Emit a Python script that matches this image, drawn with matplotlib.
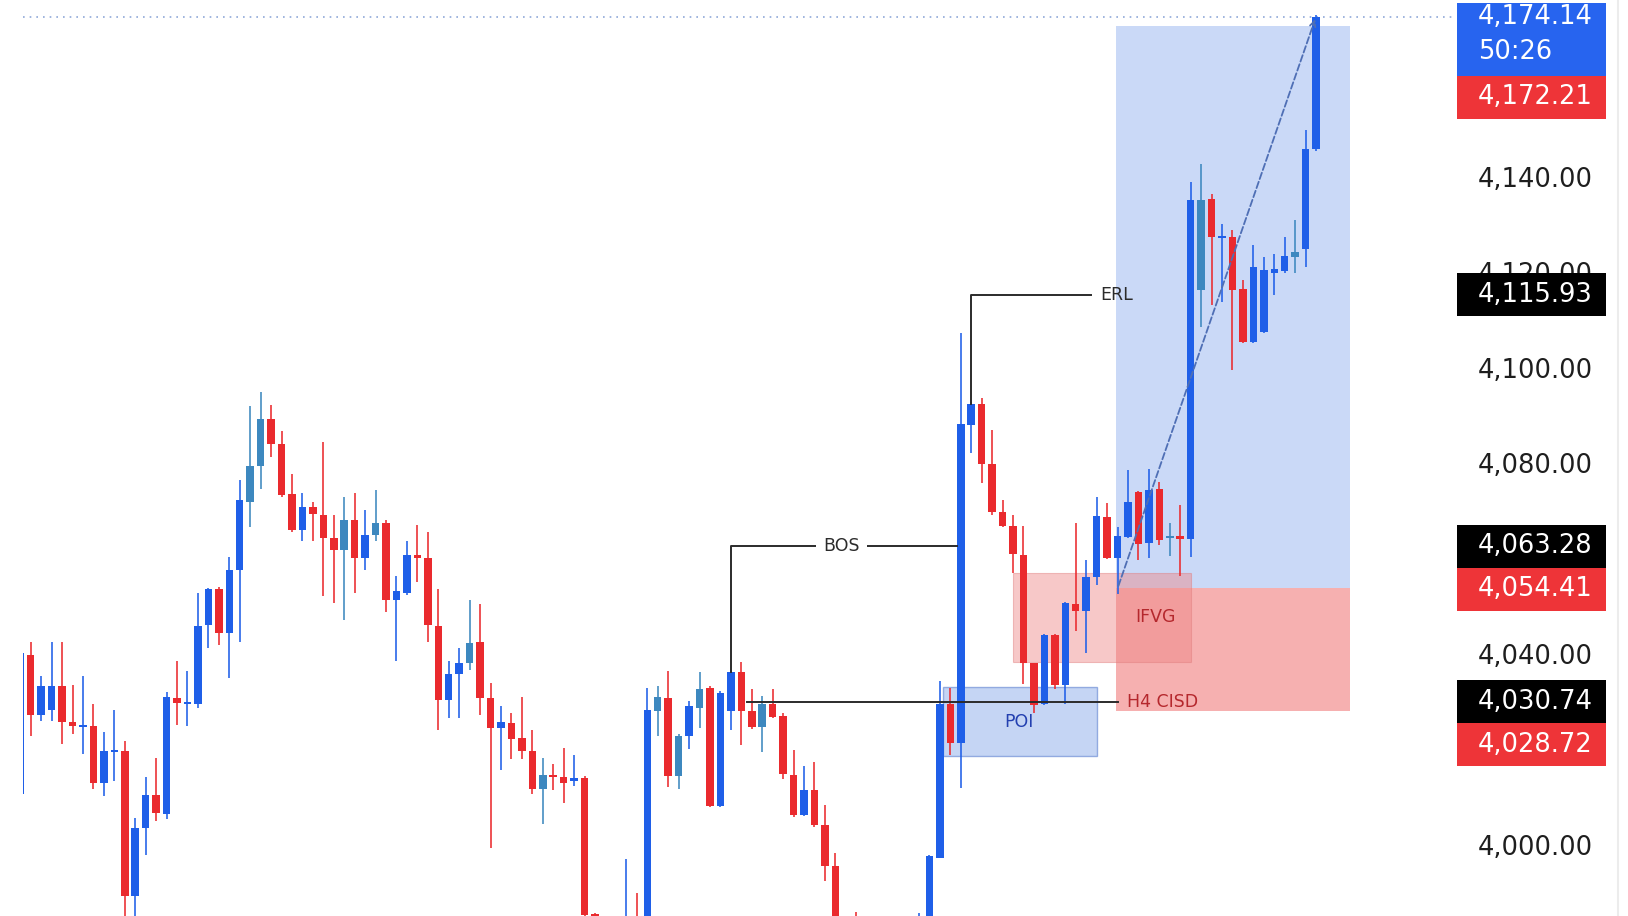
import matplotlib.pyplot as plt
from matplotlib.patches import Rectangle
import numpy as np

# OHLC, first candle (index -1) is cut by the left edge
opens = [4011.4, 4040.4, 4027.9, 4029.0, 4034.0, 4026.5, 4025.4, 4025.6, 4013.7, 4020.2,
         4020.4, 3990.0, 4004.3, 4011.1, 4007.1, 4031.5, 4030.2, 4030.2, 4046.7, 4054.4,
         4045.1, 4058.3, 4072.6, 4080.0, 4089.8, 4084.6, 4074.1, 4066.7, 4071.4, 4069.8,
         4065.0, 4062.4, 4068.8, 4060.7, 4065.7, 4068.1, 4051.9, 4053.5, 4061.4, 4060.7,
         4046.5, 4031.1, 4036.4, 4038.8, 4043.1, 4031.5, 4025.2, 4026.3, 4023.0, 4020.4,
         4012.5, 4015.4, 4014.9, 4014.0, 4014.7, 3986.2, 3980.0, 3975.0, 3978.0, 3982.0,
         3979.0, 4028.8, 4031.5, 4015.2, 4023.6, 4029.3, 4033.5, 4008.9, 4028.8, 4036.9,
         4028.8, 4025.4, 4030.2, 4027.7, 4015.4, 4007.0, 4012.3, 4004.9, 3996.2, 3982.0,
         3978.0, 3975.0, 3972.0, 3970.0, 3974.0, 3971.0, 3976.0, 3980.0, 3998.0, 4030.2,
         4022.0, 4088.6, 4093.0, 4080.5, 4070.5, 4067.5, 4061.4, 4038.7, 4030.2, 4044.7,
         4034.2, 4051.2, 4049.6, 4056.9, 4069.4, 4060.7, 4065.1, 4074.7, 4064.0, 4075.2,
         4065.0, 4065.4, 4064.7, 4117.0, 4135.9, 4127.8, 4127.9, 4117.2, 4106.1, 4108.2,
         4120.5, 4120.9, 4123.9, 4125.4, 4146.4]
highs = [4042.0, 4043.3, 4036.1, 4043.3, 4043.1, 4034.3, 4036.1, 4030.2, 4024.3, 4029.0,
         4022.5, 4006.4, 4015.0, 4019.0, 4032.8, 4039.2, 4037.2, 4053.5, 4054.6, 4054.7,
         4061.0, 4077.2, 4092.7, 4095.6, 4092.9, 4087.3, 4078.4, 4074.3, 4072.6, 4085.0,
         4069.8, 4073.6, 4074.3, 4070.9, 4075.0, 4068.7, 4057.1, 4064.3, 4067.6, 4066.2,
         4054.4, 4039.2, 4041.9, 4051.9, 4051.2, 4034.7, 4029.9, 4028.3, 4031.6, 4024.7,
         4019.0, 4017.6, 4021.1, 4019.5, 4015.2, 3986.5, 3983.0, 3984.0, 3997.7, 3990.6,
         4033.6, 4034.0, 4037.2, 4023.9, 4030.9, 4036.9, 4034.0, 4032.9, 4037.2, 4039.0,
         4033.3, 4031.8, 4033.3, 4028.3, 4020.6, 4017.2, 4018.1, 4009.1, 3999.0, 3984.0,
         3986.7, 3980.0, 3977.0, 3979.0, 3978.0, 3981.0, 3986.4, 3998.6, 4035.1, 4033.5,
         4107.8, 4093.4, 4094.2, 4087.6, 4072.9, 4069.8, 4067.5, 4038.9, 4044.9, 4044.9,
         4051.6, 4068.2, 4060.4, 4073.6, 4072.2, 4067.3, 4079.2, 4074.9, 4079.4, 4076.8,
         4068.2, 4071.9, 4139.6, 4143.2, 4137.1, 4130.7, 4129.5, 4119.0, 4126.3, 4123.9,
         4124.4, 4128.1, 4131.6, 4150.3, 4174.5]
lows = [4010.0, 4023.6, 4026.6, 4026.6, 4021.8, 4024.0, 4019.7, 4012.5, 4010.9, 4014.2,
        3983.0, 3983.0, 3998.6, 4005.7, 4006.1, 4025.8, 4025.6, 4029.3, 4041.9, 4042.6,
        4035.6, 4043.1, 4067.3, 4075.3, 4081.9, 4073.5, 4066.3, 4064.3, 4064.4, 4052.8,
        4051.4, 4047.9, 4053.5, 4058.3, 4064.4, 4049.4, 4039.2, 4053.0, 4055.8, 4043.3,
        4024.7, 4027.3, 4027.2, 4037.3, 4027.9, 4000.1, 4016.5, 4018.6, 4018.7, 4011.4,
        4005.0, 4012.3, 4009.4, 4013.0, 3985.0, 3978.0, 3972.0, 3970.0, 3975.0, 3976.0,
        3976.0, 4023.6, 4012.9, 4012.5, 4020.9, 4025.2, 4008.6, 4008.6, 4024.7, 4021.6,
        4025.0, 4020.2, 4027.2, 4014.5, 4006.6, 4006.8, 4004.5, 3993.2, 3979.0, 3975.0,
        3970.0, 3968.0, 3965.0, 3966.0, 3967.0, 3968.0, 3973.0, 3978.0, 3997.9, 4019.5,
        4012.6, 4082.7, 4076.4, 4069.8, 4067.2, 4057.6, 4034.5, 4028.3, 4030.0, 4033.3,
        4030.2, 4045.4, 4041.0, 4055.1, 4060.5, 4053.2, 4065.0, 4060.4, 4060.7, 4063.5,
        4061.2, 4057.0, 4061.1, 4109.2, 4113.8, 4114.4, 4100.2, 4105.7, 4105.7, 4107.8,
        4115.9, 4120.5, 4120.4, 4121.8, 4145.9]
closes = [4040.8, 4028.0, 4034.0, 4034.0, 4026.5, 4025.6, 4025.8, 4013.7, 4020.4, 4020.6,
          3990.0, 4004.3, 4011.1, 4007.5, 4031.6, 4030.4, 4030.6, 4046.5, 4054.2, 4045.1,
          4058.3, 4072.9, 4080.0, 4089.8, 4084.6, 4073.9, 4066.7, 4071.4, 4070.0, 4065.0,
          4062.4, 4068.8, 4060.7, 4065.7, 4068.1, 4051.9, 4053.8, 4061.4, 4060.8, 4046.7,
          4031.1, 4036.4, 4038.8, 4042.9, 4031.5, 4025.2, 4026.5, 4022.9, 4020.4, 4012.5,
          4015.4, 4014.9, 4013.7, 4014.7, 3986.0, 3980.0, 3975.0, 3978.0, 3982.0, 3979.0,
          4029.0, 4031.6, 4015.2, 4023.6, 4029.7, 4033.3, 4008.9, 4032.6, 4036.9, 4028.8,
          4025.4, 4030.2, 4027.5, 4015.5, 4007.0, 4012.3, 4004.9, 3996.2, 3982.0, 3978.0,
          3975.0, 3972.0, 3970.0, 3974.0, 3971.0, 3976.0, 3980.0, 3998.3, 4030.2, 4022.0,
          4088.8, 4093.0, 4080.5, 4070.5, 4067.5, 4061.6, 4038.7, 4030.0, 4044.7, 4034.2,
          4051.3, 4049.6, 4056.9, 4069.6, 4060.7, 4065.3, 4072.6, 4063.7, 4075.0, 4064.6,
          4065.3, 4064.7, 4135.7, 4135.7, 4127.9, 4128.1, 4117.0, 4106.1, 4121.8, 4121.0,
          4121.2, 4124.0, 4124.9, 4146.4, 4174.14]
# candles that look teal-ish in the screenshot
teal_idx = [21, 22, 30, 33, 42, 49, 60, 62, 64, 70, 109, 112, 121]

# levels / zones
erl = 4115.93
bos = 4063.28
cisd = 4030.74
entry = 4054.41
stop = 4028.72
target = 4172.21
last = 4174.14
timer = '50:26'
poi = (4019.3, 4033.7)
ifvg = (4039.1, 4057.6)
ticks = [4000, 4040, 4080, 4100, 4120, 4140]

BLUE = '#1f5fe8'
RED = '#ea2a2e'
TEAL = '#3d88bf'
DARK = '#2b2b2b'
LABEL_RED = '#b5282d'

W, H = 1628, 916
y_lo, y_hi = 3985.83, 4177.62
ppu = H / (y_hi - y_lo)  # pixels per price unit

fig = plt.figure(figsize=(W / 100, H / 100), dpi=100)
ax = fig.add_axes([23 / W, 0, (1454 - 23) / W, 1])
ax.set_xlim(-0.74, 136.2)
ax.set_ylim(y_lo, y_hi)
ax.axis('off')

# candles
x = np.arange(len(opens)) - 1
o, h, l, c = map(np.array, (opens, highs, lows, closes))
col = [BLUE if cc >= oo else RED for oo, cc in zip(o, c)]
for i in teal_idx:
    col[i + 1] = TEAL
ax.vlines(x, l, h, colors=col, lw=1.15, zorder=3)
ax.bar(x, np.maximum(np.abs(c - o), 0.35), width=0.72, bottom=np.minimum(o, c),
       color=col, lw=0, zorder=3)

# long position zones
ax.add_patch(Rectangle((103.9, entry), 22.3, target - entry, fc='#cad9f7', ec='none', zorder=1))
ax.add_patch(Rectangle((103.9, stop), 22.3, entry - stop, fc='#f6b0b0', ec='none', zorder=1))

# IFVG and POI boxes
ax.add_patch(Rectangle((94.0, ifvg[0]), 17.0, ifvg[1] - ifvg[0], fc='#ef8585', alpha=0.45,
                       ec='#e07a7a', lw=0.8, zorder=1.2))
ax.add_patch(Rectangle((87.3, poi[0]), 14.7, poi[1] - poi[0], fc='#9fb9ee', alpha=0.6,
                       ec='#5d80d0', lw=1, zorder=1.3))

# last price dotted line
ax.axhline(last, color='#8fa8d8', ls=(0, (1, 3)), lw=1.2, zorder=2)

# BOS
ax.plot([67, 67, 88.6], [closes[68], bos, bos], color=DARK, lw=1.4, zorder=4)
ax.text(77.6, bos, 'BOS', ha='center', va='center', fontsize=12.5, color=DARK, zorder=5,
        bbox=dict(fc='white', ec='none', pad=5))

# ERL
ax.plot([90, 90, 101.5], [closes[91], erl, erl], color=DARK, lw=1.4, zorder=4)
ax.text(102.3, erl, 'ERL', ha='left', va='center', fontsize=12.5, color=DARK, zorder=5)

# H4 CISD
ax.plot([68.5, 104], [cisd, cisd], color=DARK, lw=1.4, zorder=4)
ax.text(104.9, cisd, 'H4 CISD', ha='left', va='center', fontsize=12.5, color=LABEL_RED, zorder=5)
ax.text(107.6, sum(ifvg) / 2, 'IFVG', ha='center', va='center', fontsize=12.5,
        color=LABEL_RED, zorder=5)
ax.text(94.6, 4026.5, 'POI', ha='center', va='center', fontsize=12.5, color='#2340b0', zorder=5)

# path to target
ax.annotate('', xy=(123, last), xytext=(104, entry),
            arrowprops=dict(arrowstyle='->', ls='--', color='#4f6fb5', lw=1.3), zorder=4)

# price scale on the right
axr = fig.add_axes([1454 / W, 0, 174 / W, 1])
axr.set_xlim(0, 174)
axr.set_ylim(y_lo, y_hi)
axr.axis('off')
fs = 18.5
for t in ticks:
    axr.text(24, t, f'{t:,.2f}', ha='left', va='center', fontsize=fs, color='#1e1e1e', zorder=1)

bh = 43 / ppu


def tag(mid, text, face):
    axr.add_patch(Rectangle((2.7, mid - bh / 2), 149.3, bh, fc=face, ec='none', zorder=2))
    axr.text(24, mid, text, ha='left', va='center', fontsize=fs, color='white', zorder=3)


# current price + countdown
top = last + 14 / ppu
bottom = last - 59 / ppu
axr.add_patch(Rectangle((2.7, bottom), 149.3, top - bottom, fc='#2764ef', ec='none', zorder=2))
axr.text(24, last, f'{last:,.2f}', ha='left', va='center', fontsize=fs, color='white', zorder=3)
axr.text(24, last - 35 / ppu, timer, ha='left', va='center', fontsize=fs, color='white', zorder=3)
tag(bottom - bh / 2, f'{target:,.2f}', '#ee3438')
tag(erl, f'{erl:,.2f}', 'black')
tag(bos, f'{bos:,.2f}', 'black')
tag(bos - bh, f'{entry:,.2f}', '#ee3438')
tag(cisd, f'{cisd:,.2f}', 'black')
tag(cisd - bh, f'{stop:,.2f}', '#ee3438')

fig.add_artist(plt.Line2D([1618 / W] * 2, [0, 1], color='#ececec', lw=1.5))

fig.savefig('out.png', dpi=100, facecolor='white')
